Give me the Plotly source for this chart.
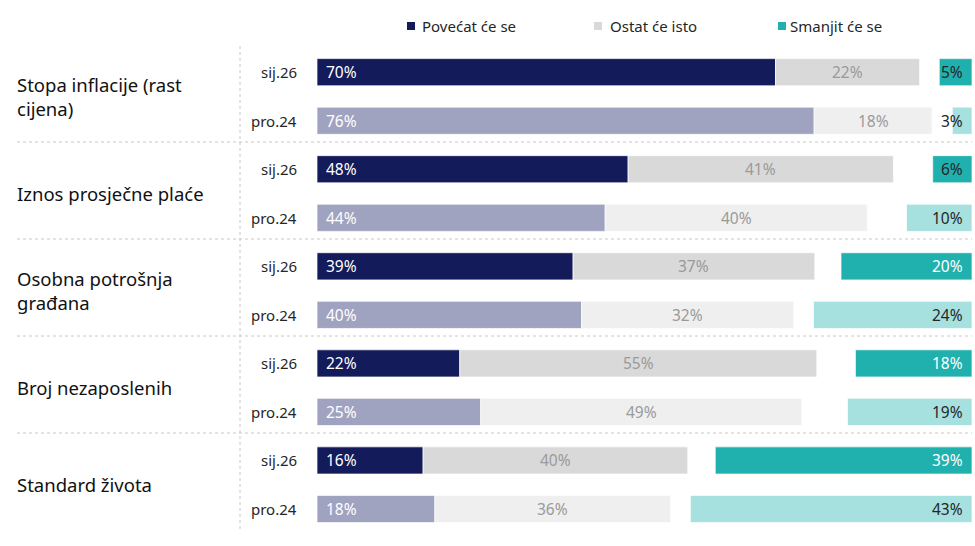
import plotly.graph_objects as go

categories = ["Stopa inflacije (rast<br>cijena)", "Iznos prosječne plaće",
              "Osobna potrošnja<br>građana", "Broj nezaposlenih", "Standard života"]
periods = ["sij.26", "pro.24"]
series_names = ["Povećat će se", "Ostat će isto", "Smanjit će se"]

# values per category, order: sij.26, pro.24
povecat_sij = [70.0, 47.5, 39.1, 21.8, 16.2]
ostat_sij = [22.0, 40.5, 36.9, 54.5, 40.4]
smanjit_sij = [5.0, 6.0, 20.0, 17.8, 39.2]
povecat_pro = [75.9, 44.0, 40.4, 25.0, 18.0]
ostat_pro = [18.0, 40.0, 32.4, 49.0, 36.0]
smanjit_pro = [3.0, 10.0, 24.2, 19.0, 43.0]

lab_povecat_sij = ["70%", "48%", "39%", "22%", "16%"]
lab_ostat_sij = ["22%", "41%", "37%", "55%", "40%"]
lab_smanjit_sij = ["5%", "6%", "20%", "18%", "39%"]
lab_povecat_pro = ["76%", "44%", "40%", "25%", "18%"]
lab_ostat_pro = ["18%", "40%", "32%", "49%", "36%"]
lab_smanjit_pro = ["3%", "10%", "24%", "19%", "43%"]

C_NAVY, C_NAVY_L = "#141B5B", "#A0A3BF"
C_GRAY, C_GRAY_L = "#D9D9D9", "#EFEFEF"
C_TEAL, C_TEAL_L = "#20B1AE", "#A6E0DF"

W, H = 975, 546
ML, MR = 317, 3
FONT = "Noto Sans"

rows_y, pov, ost, sma, lp, lo, ls, period_lab = [], [], [], [], [], [], [], []
for g in range(len(categories)):
    for k, p in enumerate(periods):
        rows_y.append(2 * g + k)
        period_lab.append(p)
        if k == 0:
            pov.append(povecat_sij[g]); ost.append(ostat_sij[g]); sma.append(smanjit_sij[g])
            lp.append(lab_povecat_sij[g]); lo.append(lab_ostat_sij[g]); ls.append(lab_smanjit_sij[g])
        else:
            pov.append(povecat_pro[g]); ost.append(ostat_pro[g]); sma.append(smanjit_pro[g])
            lp.append(lab_povecat_pro[g]); lo.append(lab_ostat_pro[g]); ls.append(lab_smanjit_pro[g])

is_sij = [y % 2 == 0 for y in rows_y]
bw = 0.56
line = dict(color="rgba(255,255,255,0.7)", width=1)

fig = go.Figure()
fig.add_trace(go.Bar(y=rows_y, x=pov, base=[0] * len(pov), orientation="h", width=bw,
                     name=series_names[0],
                     marker=dict(color=[C_NAVY if s else C_NAVY_L for s in is_sij], line=line)))
fig.add_trace(go.Bar(y=rows_y, x=ost, base=pov, orientation="h", width=bw,
                     name=series_names[1],
                     marker=dict(color=[C_GRAY if s else C_GRAY_L for s in is_sij], line=line)))
fig.add_trace(go.Bar(y=rows_y, x=sma, base=[100 - v for v in sma], orientation="h", width=bw,
                     name=series_names[2],
                     marker=dict(color=[C_TEAL if s else C_TEAL_L for s in is_sij], line=line)))

ann = []
for i, y in enumerate(rows_y):
    ann.append(dict(x=0, y=y, xref="x", yref="y", text=lp[i], showarrow=False,
                    xanchor="left", xshift=7, font=dict(family=FONT, size=15.5, color="white")))
    ann.append(dict(x=pov[i] + ost[i] / 2, y=y, xref="x", yref="y", text=lo[i], showarrow=False,
                    xanchor="center", font=dict(family=FONT, size=15.5, color="#9A9A9A")))
    dark = (not is_sij[i]) or sma[i] < 10
    ann.append(dict(x=100, y=y, xref="x", yref="y", text=ls[i], showarrow=False,
                    xanchor="right", xshift=-7,
                    font=dict(family=FONT, size=15.5, color="#262626" if dark else "white")))
    ann.append(dict(x=(299 - ML) / (W - ML - MR), y=y, xref="paper", yref="y", text=period_lab[i],
                    showarrow=False, xanchor="right",
                    font=dict(family=FONT, size=15, color="#262626")))

for g, c in enumerate(categories):
    ann.append(dict(x=(15 - ML) / (W - ML - MR), y=2 * g + 0.5, xref="paper", yref="y", text=c,
                    showarrow=False, xanchor="left", align="left",
                    font=dict(family=FONT, size=18.5, color="#111111")))

def px_x(px):
    return (px - ML) / (W - ML - MR)

def px_y(py):
    return 1 - py / H

shapes = []
for py in [142, 239, 336, 433]:
    shapes.append(dict(type="line", xref="paper", yref="paper", x0=px_x(17), x1=px_x(972),
                       y0=px_y(py), y1=px_y(py), line=dict(color="#C8C8C8", width=1, dash="dot")))
shapes.append(dict(type="line", xref="paper", yref="paper", x0=px_x(240), x1=px_x(240),
                   y0=px_y(46), y1=px_y(530), line=dict(color="#C8C8C8", width=1, dash="dot")))

legend_items = [(407, 420, C_NAVY), (594, 608, C_GRAY), (778, 788, C_TEAL)]
for (sx, tx, col), name in zip(legend_items, series_names):
    shapes.append(dict(type="rect", xref="paper", yref="paper", x0=px_x(sx), x1=px_x(sx + 8),
                       y0=px_y(30), y1=px_y(22), fillcolor=col, line=dict(width=0)))
    ann.append(dict(x=px_x(tx), y=px_y(26), xref="paper", yref="paper", text=name, showarrow=False,
                    xanchor="left", yanchor="middle", font=dict(family=FONT, size=15, color="#262626")))

span = H / 48.53
r_top = -72.2 / 48.53
fig.update_layout(
    width=W, height=H, margin=dict(l=ML, r=MR, t=0, b=0),
    paper_bgcolor="white", plot_bgcolor="white", showlegend=False, barmode="overlay",
    xaxis=dict(range=[0, 100], visible=False, fixedrange=True),
    yaxis=dict(range=[r_top + span, r_top], visible=False, fixedrange=True),
    annotations=ann, shapes=shapes, font=dict(family=FONT),
)
fig.write_html("out.html", config={"displayModeBar": False},
               post_script="document.body.style.margin='0';document.body.style.overflow='hidden';")
